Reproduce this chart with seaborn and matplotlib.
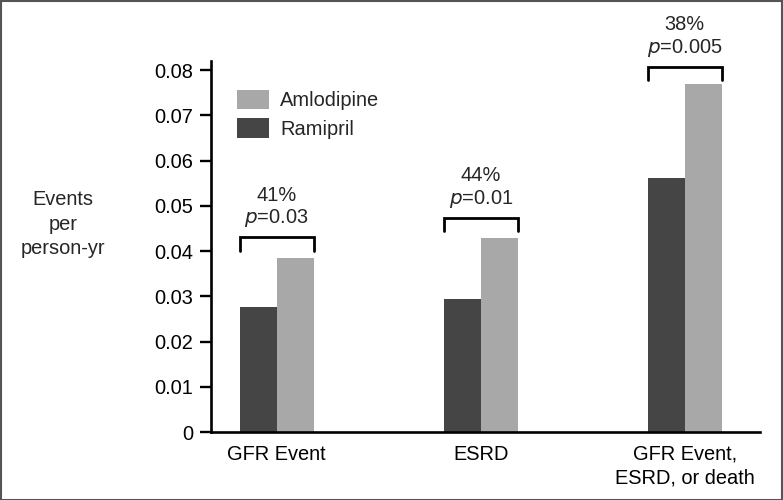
import matplotlib
matplotlib.use("Agg")
import matplotlib.pyplot as plt
import seaborn as sns
import pandas as pd
from matplotlib.patches import Patch, Rectangle
from matplotlib.ticker import FuncFormatter

categories = ["GFR Event", "ESRD", "GFR Event,\nESRD, or death"]
ramipril = [0.0276, 0.0294, 0.0561]
amlodipine = [0.0384, 0.0428, 0.0770]
reductions = ["41%", "44%", "38%"]
pvalues = ["0.03", "0.01", "0.005"]
bracket_tops = [0.0431, 0.0474, 0.0807]

df = pd.DataFrame({
    "category": categories * 2,
    "drug": ["Ramipril"] * 3 + ["Amlodipine"] * 3,
    "value": ramipril + amlodipine,
})

sns.set_style("white")
plt.rcParams["font.family"] = ["Liberation Sans", "DejaVu Sans"]
FS = 14.4
DARK = "#454545"
LIGHT = "#a8a8a8"

fig = plt.figure(figsize=(7.83, 5.0), dpi=100)
ax = fig.add_axes([211 / 783, 1 - 432 / 500, (760 - 211) / 783, (432 - 61) / 500])

W = 0.363
sns.barplot(data=df, x="category", y="value", hue="drug",
            hue_order=["Ramipril", "Amlodipine"],
            palette={"Ramipril": DARK, "Amlodipine": LIGHT},
            width=W, gap=0, saturation=1, linewidth=0, ax=ax, legend=False)

ax.set_xlim(-0.322, 2.369)
ax.set_ylim(0, 0.082)
ax.set_yticks([0, 0.01, 0.02, 0.03, 0.04, 0.05, 0.06, 0.07, 0.08])
ax.yaxis.set_major_formatter(FuncFormatter(lambda v, p: "0" if abs(v) < 1e-9 else f"{v:.2f}"))
ax.set_xlabel("")
ax.set_ylabel("")

for s in ["top", "right"]:
    ax.spines[s].set_visible(False)
for s in ["left", "bottom"]:
    ax.spines[s].set_linewidth(1.9)
    ax.spines[s].set_color("black")

ax.tick_params(axis="y", which="major", direction="out", length=8, width=1.7,
               labelsize=FS, pad=5, left=True, colors="black")
ax.tick_params(axis="x", which="major", length=0, labelsize=FS, pad=9, colors="black")
for lbl in ax.get_xticklabels():
    lbl.set_linespacing(1.35)

# brackets and annotations
for i, (top, red, pv) in enumerate(zip(bracket_tops, reductions, pvalues)):
    x0, x1 = i - W / 2, i + W / 2
    leg = top - 0.003
    ax.plot([x0, x0, x1, x1], [leg, top, top, leg], color="black", lw=2.0,
            solid_joinstyle="miter", clip_on=False)
    ax.annotate(f"$\\it{{p}}$={pv}", xy=(i, top), xytext=(0, 13.5),
                textcoords="offset points", ha="center", va="center",
                fontsize=FS, annotation_clip=False)
    ax.annotate(red, xy=(i, top), xytext=(0, 30.2),
                textcoords="offset points", ha="center", va="center",
                fontsize=FS, annotation_clip=False)

# legend
handles = [Patch(facecolor=LIGHT, edgecolor="none", label="Amlodipine"),
           Patch(facecolor=DARK, edgecolor="none", label="Ramipril")]
fig.legend(handles=handles, loc="upper left",
           bbox_to_anchor=(237 / 783, 1 - 90 / 500), frameon=False,
           fontsize=FS, handlelength=1.6, handleheight=1.1,
           handletextpad=0.55, labelspacing=0.4, borderpad=0, borderaxespad=0)

# y label
fig.text(63 / 783, 1 - 224 / 500, "Events\nper\nperson-yr", ha="center",
         va="center", fontsize=FS, linespacing=1.38)

# border
fig.patches.append(Rectangle((0.001, 0.001), 0.998, 0.998, transform=fig.transFigure,
                             fill=False, edgecolor="#555555", linewidth=1.5))

fig.savefig("out.png", dpi=100)
